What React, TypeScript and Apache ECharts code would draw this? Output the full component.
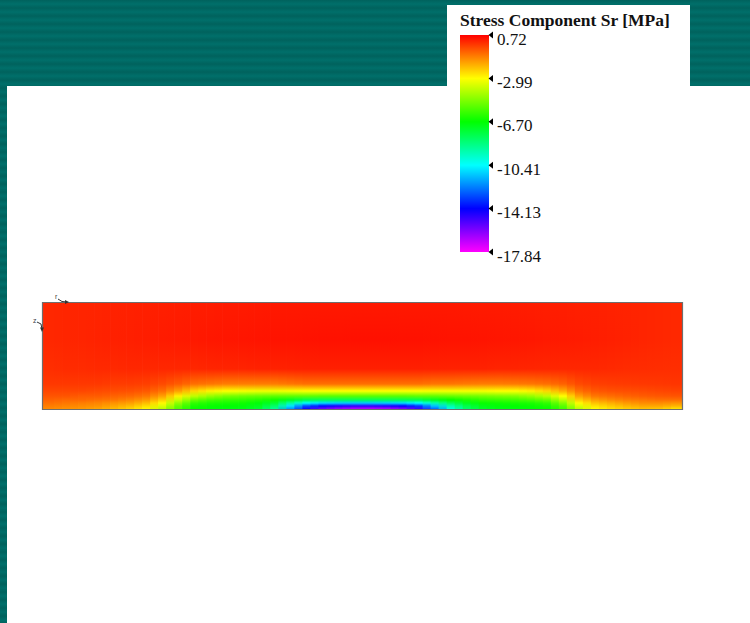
import React, { useEffect, useRef } from "react";
import * as echarts from "echarts";

// Legend
const legendTitle = "Stress Component Sr [MPa]";
const legendTicks = [0.72, -2.99, -6.7, -10.41, -14.13, -17.84];
const legendTickLabels = ["0.72", "-2.99", "-6.70", "-10.41", "-14.13", "-17.84"];
const legendColors = ["#ff0000", "#ffff00", "#00ff00", "#00ffff", "#0000ff", "#ff00ff"];

// Field sampling: relative height above the bottom edge of the section (0 = bottom, 1 = top)
const depthLevels = [0, 0.028, 0.056, 0.084, 0.121, 0.168, 0.234, 0.374, 0.654, 1];

// Stress Sr [MPa] per column (left to right), values at depthLevels
const fieldColumns = [
  [-1.3, -1.1, -0.9, -0.7, -0.5, -0.3, -0.1, 0.05, 0.15, 0.15],
  [-1.4, -1.2, -1.0, -0.8, -0.5, -0.3, -0.1, 0.1, 0.18, 0.18],
  [-1.5, -1.3, -1.1, -0.8, -0.6, -0.3, -0.1, 0.1, 0.2, 0.2],
  [-1.7, -1.4, -1.2, -0.9, -0.6, -0.35, -0.1, 0.12, 0.22, 0.2],
  [-2.0, -1.7, -1.4, -1.0, -0.7, -0.4, -0.15, 0.12, 0.25, 0.22],
  [-2.4, -2.0, -1.6, -1.2, -0.8, -0.45, -0.15, 0.15, 0.27, 0.24],
  [-2.9, -2.5, -2.0, -1.5, -1.0, -0.55, -0.2, 0.15, 0.3, 0.25],
  [-4.0, -3.5, -2.9, -2.3, -1.6, -0.9, -0.35, 0.15, 0.32, 0.27],
  [-5.5, -5.2, -4.6, -3.8, -2.8, -1.6, -0.6, 0.15, 0.34, 0.28],
  [-6.6, -6.4, -6.0, -5.2, -3.9, -2.4, -0.9, 0.15, 0.36, 0.3],
  [-6.8, -6.6, -6.3, -5.7, -4.5, -2.8, -1.0, 0.18, 0.38, 0.3],
  [-6.9, -6.7, -6.4, -5.9, -4.9, -3.0, -1.1, 0.2, 0.4, 0.32],
  [-7.0, -6.8, -6.5, -6.0, -5.1, -3.1, -1.1, 0.2, 0.42, 0.33],
  [-7.4, -7.1, -6.8, -6.2, -5.2, -3.2, -1.1, 0.22, 0.43, 0.34],
  [-8.8, -8.2, -7.4, -6.5, -5.3, -3.2, -1.1, 0.22, 0.44, 0.35],
  [-12.0, -10.8, -9.0, -7.2, -5.3, -3.1, -1.0, 0.24, 0.45, 0.35],
  [-14.5, -13.0, -10.3, -7.8, -5.3, -3.0, -0.9, 0.25, 0.46, 0.36],
  [-15.8, -14.0, -10.9, -8.0, -5.4, -3.0, -0.9, 0.26, 0.47, 0.36],
  [-16.5, -14.5, -11.1, -8.0, -5.4, -3.0, -0.9, 0.26, 0.47, 0.36],
  [-16.9, -14.8, -11.2, -8.0, -5.4, -3.0, -0.9, 0.26, 0.48, 0.36],
  [-17.0, -14.8, -11.2, -8.0, -5.4, -3.0, -0.9, 0.26, 0.48, 0.36],
  [-16.8, -14.6, -11.1, -8.0, -5.4, -3.0, -0.9, 0.26, 0.48, 0.36],
  [-16.2, -14.2, -10.9, -7.9, -5.4, -3.0, -0.9, 0.26, 0.47, 0.36],
  [-15.0, -13.3, -10.4, -7.8, -5.3, -3.0, -0.9, 0.25, 0.47, 0.36],
  [-12.6, -11.3, -9.2, -7.2, -5.3, -3.1, -1.0, 0.24, 0.46, 0.35],
  [-10.0, -9.2, -8.0, -6.7, -5.2, -3.1, -1.0, 0.23, 0.45, 0.35],
  [-8.2, -7.8, -7.1, -6.3, -5.1, -3.1, -1.05, 0.22, 0.44, 0.34],
  [-7.3, -7.0, -6.6, -6.0, -5.0, -3.1, -1.1, 0.22, 0.43, 0.33],
  [-7.0, -6.8, -6.5, -5.9, -4.9, -3.0, -1.1, 0.2, 0.42, 0.32],
  [-6.9, -6.7, -6.4, -5.8, -4.8, -3.0, -1.05, 0.2, 0.4, 0.31],
  [-6.8, -6.6, -6.3, -5.6, -4.5, -2.8, -1.0, 0.18, 0.38, 0.3],
  [-6.6, -6.4, -6.0, -5.2, -4.0, -2.4, -0.9, 0.16, 0.36, 0.29],
  [-5.8, -5.4, -4.8, -4.0, -3.0, -1.8, -0.7, 0.15, 0.34, 0.28],
  [-4.0, -3.5, -2.9, -2.3, -1.6, -0.9, -0.35, 0.15, 0.32, 0.26],
  [-3.0, -2.6, -2.1, -1.6, -1.0, -0.55, -0.2, 0.15, 0.3, 0.25],
  [-2.6, -2.2, -1.8, -1.3, -0.85, -0.45, -0.15, 0.13, 0.27, 0.23],
  [-2.3, -1.9, -1.5, -1.1, -0.7, -0.4, -0.12, 0.1, 0.24, 0.21],
  [-2.1, -1.7, -1.3, -1.0, -0.6, -0.35, -0.1, 0.08, 0.2, 0.19],
  [-2.2, -1.7, -1.3, -0.9, -0.55, -0.3, -0.08, 0.06, 0.17, 0.16],
  [-2.6, -1.9, -1.4, -0.9, -0.5, -0.25, -0.05, 0.05, 0.14, 0.14],
];

function hexToRgb(h: string): number[] {
  return [parseInt(h.slice(1, 3), 16), parseInt(h.slice(3, 5), 16), parseInt(h.slice(5, 7), 16)];
}

// color scale identical to the legend bar
function colorFor(v: number): string {
  const vals = legendTicks; // descending
  if (v >= vals[0]) return legendColors[0];
  if (v <= vals[vals.length - 1]) return legendColors[legendColors.length - 1];
  for (let k = 0; k < vals.length - 1; k++) {
    const a = vals[k];
    const b = vals[k + 1];
    if (v <= a && v >= b) {
      const t = (a - v) / (a - b);
      const c0 = hexToRgb(legendColors[k]);
      const c1 = hexToRgb(legendColors[k + 1]);
      const c = c0.map((x, j) => Math.round(x + (c1[j] - x) * t));
      return `rgb(${c[0]},${c[1]},${c[2]})`;
    }
  }
  return legendColors[0];
}

// one column of the field drawn as a vertically shaded cell; `shift` renders
// a half-transparent offset pass so column boundaries look softer
function makeRenderItem(shift: number, n: number) {
  return (params: any, api: any) => {
    const i = api.value(0);
    let x0 = i + shift;
    let x1 = i + 1 + shift;
    if (shift > 0 && i === 0) x0 = 0;
    x0 = Math.max(0, x0);
    x1 = Math.min(n, x1);
    const p0 = api.coord([x0, 1]);
    const p1 = api.coord([x1, 0]);
    const stops = depthLevels
      .map((lv, k) => ({ offset: 1 - lv, color: colorFor(api.value(k + 1)) }))
      .reverse();
    return {
      type: "rect",
      shape: {
        x: p0[0],
        y: p0[1],
        width: p1[0] - p0[0] + (x1 < n ? 0.6 : 0),
        height: p1[1] - p0[1],
      },
      style: { fill: new echarts.graphic.LinearGradient(0, 0, 0, 1, stops) },
    };
  };
}

export default function App() {
  const ref = useRef<HTMLDivElement>(null);
  useEffect(() => {
    if (!ref.current) return;
    const chart = echarts.init(ref.current, null, { renderer: "svg" });

    const barX = 460;
    const barY = 35;
    const barW = 29;
    const barH = 217;
    const vMax = legendTicks[0];
    const vMin = legendTicks[legendTicks.length - 1];
    const n = fieldColumns.length;
    const fieldData = fieldColumns.map((vals, i) => [i, ...vals]);

    const legendGraphics: any[] = [];
    legendTicks.forEach((v, k) => {
      const y = barY + (barH * (vMax - v)) / (vMax - vMin);
      legendGraphics.push({
        type: "polygon",
        shape: { points: [[488.5, y], [493, y - 3.5], [493, y + 3.5]] },
        style: { fill: "#000" },
        z: 20,
      });
      legendGraphics.push({
        type: "text",
        x: 497,
        y: y + 4,
        style: {
          text: legendTickLabels[k],
          font: '17px "Liberation Serif", "DejaVu Serif", serif',
          fill: "#111",
          textVerticalAlign: "middle",
          textAlign: "left",
        },
        z: 20,
      });
    });

    const option: any = {
      animation: false,
      backgroundColor: "transparent",
      grid: { left: 42, top: 302, width: 641, height: 107, show: false },
      xAxis: { type: "value", min: 0, max: n, show: false },
      yAxis: { type: "value", min: 0, max: 1, show: false },
      graphic: [
        { type: "rect", shape: { x: 7, y: 86, width: 743, height: 537 }, style: { fill: "#ffffff" }, z: 0 },
        { type: "rect", shape: { x: 447, y: 5, width: 243, height: 82 }, style: { fill: "#ffffff" }, z: 0 },
        {
          type: "text",
          x: 460,
          y: 20,
          style: {
            text: legendTitle,
            font: 'bold 17.5px "Liberation Serif", "DejaVu Serif", serif',
            fill: "#111",
            textVerticalAlign: "middle",
          },
          z: 20,
        },
        {
          type: "rect",
          shape: { x: barX, y: barY, width: barW, height: barH },
          style: {
            fill: new echarts.graphic.LinearGradient(
              0,
              0,
              0,
              1,
              legendColors.map((c, k) => ({ offset: k / (legendColors.length - 1), color: c }))
            ),
          },
          z: 20,
        },
        ...legendGraphics,
        {
          type: "rect",
          shape: { x: 42.5, y: 302.5, width: 640, height: 107 },
          style: { fill: "none", stroke: "#6e6e6e", lineWidth: 1.2 },
          z: 50,
        },
        // coordinate triad
        {
          type: "text",
          x: 55,
          y: 296,
          style: { text: "r", font: "7px sans-serif", fill: "#444", textVerticalAlign: "middle" },
          z: 50,
        },
        {
          type: "polyline",
          shape: { points: [[58, 299], [62, 301.5], [67, 302]] },
          style: { stroke: "#333", lineWidth: 1, fill: "none" },
          z: 50,
        },
        {
          type: "polygon",
          shape: { points: [[69, 302], [65, 300], [65, 304]] },
          style: { fill: "#333" },
          z: 50,
        },
        {
          type: "text",
          x: 33,
          y: 320,
          style: { text: "z", font: "7px sans-serif", fill: "#444", textVerticalAlign: "middle" },
          z: 50,
        },
        {
          type: "polyline",
          shape: { points: [[37, 322], [41, 324], [42, 329]] },
          style: { stroke: "#333", lineWidth: 1, fill: "none" },
          z: 50,
        },
        {
          type: "polygon",
          shape: { points: [[42, 332], [40, 327.5], [44, 327.5]] },
          style: { fill: "#333" },
          z: 50,
        },
      ],
      series: [
        {
          type: "custom",
          name: "Sr",
          coordinateSystem: "cartesian2d",
          data: fieldData,
          encode: { x: 0, y: 1 },
          z: 10,
          renderItem: makeRenderItem(0.25, n),
        },
        {
          type: "custom",
          name: "Sr (soft)",
          coordinateSystem: "cartesian2d",
          data: fieldData,
          encode: { x: 0, y: 1 },
          z: 11,
          itemStyle: { opacity: 0.5 },
          renderItem: (params: any, api: any) => {
            const el: any = makeRenderItem(-0.25, n)(params, api);
            el.style.opacity = 0.5;
            return el;
          },
        },
      ],
    };
    chart.setOption(option);
    return () => chart.dispose();
  }, []);

  return (
    <div
      style={{
        position: "fixed",
        left: 0,
        top: 0,
        width: 750,
        height: 623,
        background:
          "repeating-linear-gradient(to bottom, #00625d 0px, #006f6a 4px, #00625d 8px)",
      }}
    >
      <div ref={ref} style={{ width: 750, height: 623 }} />
    </div>
  );
}
